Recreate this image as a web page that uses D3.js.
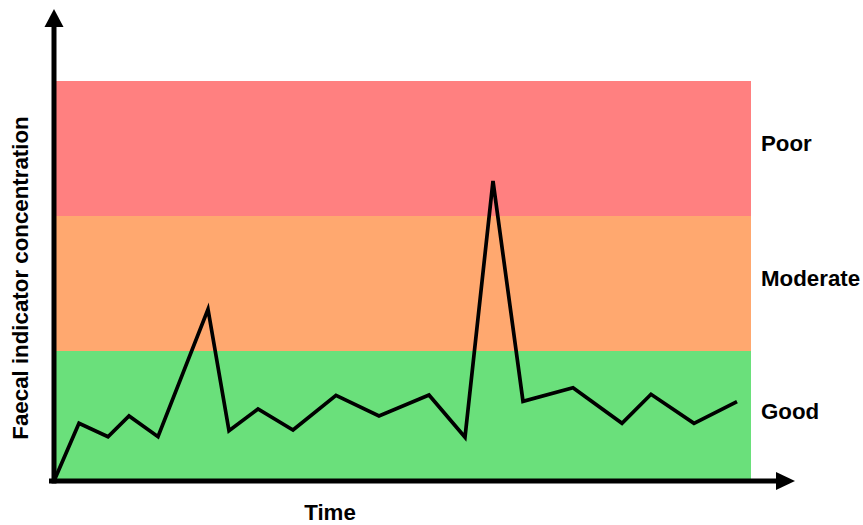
<!DOCTYPE html>
<html>
<head>
<meta charset="utf-8">
<script src="https://cdn.jsdelivr.net/npm/d3@7"></script>
<style>
  html, body { margin: 0; padding: 0; background: #fff; }
  svg { display: block; }
  text { font-family: "Liberation Sans", Arial, sans-serif; font-weight: bold; fill: #000; }
</style>
</head>
<body>
<svg id="chart" width="863" height="525"></svg>
<script>
// ---- data ----
const bandNames = ["Good", "Moderate", "Poor"];
const bandLower = [0, 130, 265];
const bandUpper = [130, 265, 400];
const bandColors = ["#6ae07b", "#ffa86f", "#ff8080"];

const timeValues = [0, 25, 54, 75, 104, 154, 175, 204, 239, 282, 325, 375, 411, 439, 469, 519, 568, 597, 640, 683];
const concValues = [0, 57.7, 44.3, 65, 44.3, 171.7, 50.3, 72, 51, 85.7, 65, 86, 43.7, 300, 79.7, 93.3, 57.7, 86.7, 57.7, 79.3];

const xLabel = "Time";
const yLabel = "Faecal indicator concentration";

// ---- layout ----
const svg = d3.select("#chart");
const x0 = 54, x1 = 754, yBottom = 481, yTop = 81;
const x = d3.scaleLinear().domain([0, 700]).range([x0, x1]);
const y = d3.scaleLinear().domain([0, 400]).range([yBottom, yTop]);

const bands = bandNames.map((n, i) => ({ name: n, lo: bandLower[i], hi: bandUpper[i], color: bandColors[i] }));

svg.append("g").selectAll("rect").data(bands).join("rect")
  .attr("x", x(0))
  .attr("width", 751 - x(0))
  .attr("y", d => y(d.hi))
  .attr("height", d => y(d.lo) - y(d.hi))
  .attr("fill", d => d.color);

svg.append("g").selectAll("text").data(bands).join("text")
  .attr("x", 761)
  .attr("y", d => y((d.lo + d.hi) / 2) + 2.5)
  .attr("font-size", 22.3)
  .text(d => d.name);

// line
const pts = timeValues.map((t, i) => [t, concValues[i]]);
svg.append("path")
  .datum(pts)
  .attr("fill", "none")
  .attr("stroke", "#000")
  .attr("stroke-width", 3.7)
  .attr("stroke-linejoin", "miter")
  .attr("d", d3.line().x(d => x(d[0])).y(d => y(d[1])));

// axes with arrows
const axisG = svg.append("g");
axisG.append("line").attr("x1", x0).attr("x2", x0).attr("y1", yBottom + 2.5).attr("y2", 26)
  .attr("stroke", "#000").attr("stroke-width", 5);
axisG.append("polygon").attr("points", `${x0 - 9.5},27 ${x0 + 9.5},27 ${x0},9`).attr("fill", "#000");
axisG.append("line").attr("x1", x0 - 5).attr("x2", 777).attr("y1", yBottom).attr("y2", yBottom)
  .attr("stroke", "#000").attr("stroke-width", 5);
axisG.append("polygon").attr("points", `776,${yBottom - 9} 776,${yBottom + 9} 795,${yBottom}`).attr("fill", "#000");

// axis titles
svg.append("text")
  .attr("x", 330).attr("y", 520)
  .attr("text-anchor", "middle")
  .attr("font-size", 22.3)
  .text(xLabel);

svg.append("text")
  .attr("transform", "translate(28,278) rotate(-90)")
  .attr("text-anchor", "middle")
  .attr("font-size", 22.3)
  .text(yLabel);
</script>
</body>
</html>
